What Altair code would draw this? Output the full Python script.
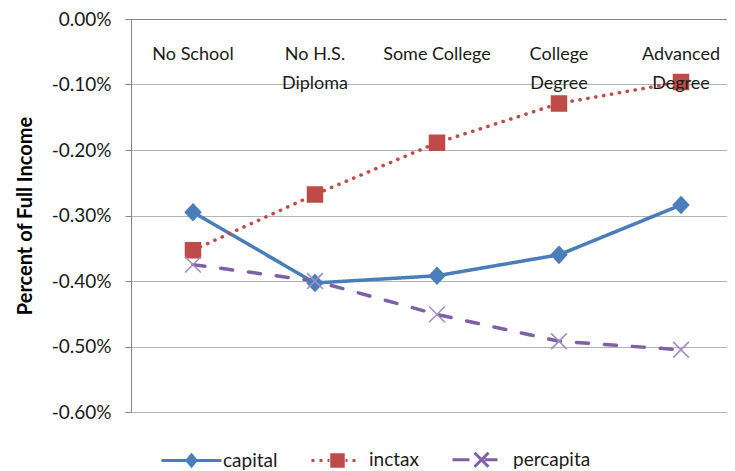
import altair as alt
import pandas as pd

# ---- data ----
categories = ["No School", "No H.S. Diploma", "Some College", "College Degree", "Advanced Degree"]
category_labels = ["No School", "No H.S.\nDiploma", "Some College", "College\nDegree", "Advanced\nDegree"]
series = ["capital", "inctax", "percapita"]
capital = [-0.295, -0.403, -0.392, -0.360, -0.284]
inctax = [-0.353, -0.268, -0.189, -0.129, -0.096]
percapita = [-0.375, -0.400, -0.451, -0.492, -0.505]
y_ticks = [0.0, -0.1, -0.2, -0.3, -0.4, -0.5, -0.6]

values_by_series = {"capital": capital, "inctax": inctax, "percapita": percapita}
rows = []
for s in series:
    for c, v in zip(categories, values_by_series[s]):
        rows.append({"category": c, "series": s, "value": v})
df = pd.DataFrame(rows)
labels_df = pd.DataFrame({"category": categories, "label": category_labels})

# ---- styles ----
FONT = "Lato"
line_colors = ["#4a7ebb", "#be4b48", "#7f60a6"]
marker_stroke = ["#4a7ebb", "#be4b48", "#a08cc4"]
marker_fill = ["#4a7ebb", "#be4b48", "transparent"]
marker_paths = [
    "M0,-1.1L1.03,0L0,1.1L-1.03,0Z",
    "M-1,-1L1,-1L1,1L-1,1Z",
    "M-1.05,-1.05L1.05,1.05M-1.05,1.05L1.05,-1.05",
]
legend_paths = [
    "M-6,0L6,0M0,-1.1L0.9,0L0,1.1L-0.9,0Z",
    "M-5.2,0L-4.6,0M-3.6,0L-3,0M-2.0,0L-1.6,0M1.6,0L2.0,0M3,0L3.6,0M-1.15,-1.15L1.15,-1.15L1.15,1.15L-1.15,1.15Z",
    "M-5.8,0L-2.4,0M0.6,0L3.2,0M-1.4,-1.4L1.4,1.4M-1.4,1.4L1.4,-1.4",
]

x_enc = alt.X(
    "category:N",
    scale=alt.Scale(type="point", domain=categories, padding=0.4426, align=0.574),
    axis=alt.Axis(orient="top", labels=False, ticks=False, domain=True, grid=False,
                  title=None, domainColor="#868686", domainWidth=1),
)
y_enc = alt.Y(
    "value:Q",
    scale=alt.Scale(domain=[-0.6, 0.0], nice=False, zero=False),
    axis=alt.Axis(
        values=y_ticks,
        labelExpr="replace(format(datum.value, '.2f'), '\u2212', '-') + '%'",
        title="Percent of Full Income",
        titleFont=FONT, titleFontSize=20, titleFontWeight="bold", titleColor="#000000",
        titlePadding=16,
        labelFont=FONT, labelFontSize=19, labelColor="#1a1a1a", labelPadding=14,
        tickSize=6, tickColor="#868686", domainColor="#868686",
        grid=True, gridColor="#b3b3b3", gridWidth=1.2,
    ),
)

lines = alt.Chart(df).mark_line(strokeWidth=3.5, strokeCap="round").encode(
    x=x_enc,
    y=y_enc,
    color=alt.Color("series:N", scale=alt.Scale(domain=series, range=line_colors), legend=None),
    strokeDash=alt.StrokeDash("series:N",
                              scale=alt.Scale(domain=series, range=[[1, 0], [0.3, 7.7], [12, 16]]),
                              legend=None),
    detail="series:N",
)

points = alt.Chart(df).mark_point(size=225, strokeWidth=1.5, opacity=1).encode(
    x=x_enc,
    y=y_enc,
    shape=alt.Shape("series:N", scale=alt.Scale(domain=series, range=marker_paths), legend=None),
    fill=alt.Fill("series:N", scale=alt.Scale(domain=series, range=marker_fill), legend=None),
    stroke=alt.Stroke("series:N", scale=alt.Scale(domain=series, range=marker_stroke), legend=None),
)

legend_layer = alt.Chart(df).transform_filter("false").mark_point(size=100, opacity=1, strokeWidth=3).encode(
    x=x_enc,
    y=y_enc,
    shape=alt.Shape("series:N", scale=alt.Scale(domain=series, range=legend_paths), title=None),
    fill=alt.Fill("series:N", scale=alt.Scale(domain=series, range=marker_fill), title=None),
    stroke=alt.Stroke("series:N", scale=alt.Scale(domain=series, range=line_colors),
                      title=None,
                      legend=alt.Legend(orient="none", direction="horizontal", legendX=51, legendY=431,
                                        symbolSize=100, symbolStrokeWidth=3,
                                        labelFont=FONT, labelFontSize=19, labelColor="#1a1a1a",
                                        labelOffset=22, columnPadding=27, padding=0)),
)

text = alt.Chart(labels_df).mark_text(
    baseline="top", align="center", lineBreak="\n", lineHeight=29,
    font=FONT, fontSize=18, color="#1a1a1a",
).encode(
    x=x_enc,
    y=alt.value(27),
    text="label:N",
)

chart = alt.layer(lines, points, legend_layer, text).resolve_scale(
    shape="independent", fill="independent", stroke="independent"
).properties(
    width=596,
    height=393,
    autosize=alt.AutoSizeParams(type="none"),
    padding={"left": 123, "top": 11, "right": 0, "bottom": 60},
).configure_view(stroke=None).configure(background="white")

chart.save("out.html", embed_options={"renderer": "svg", "actions": False})
